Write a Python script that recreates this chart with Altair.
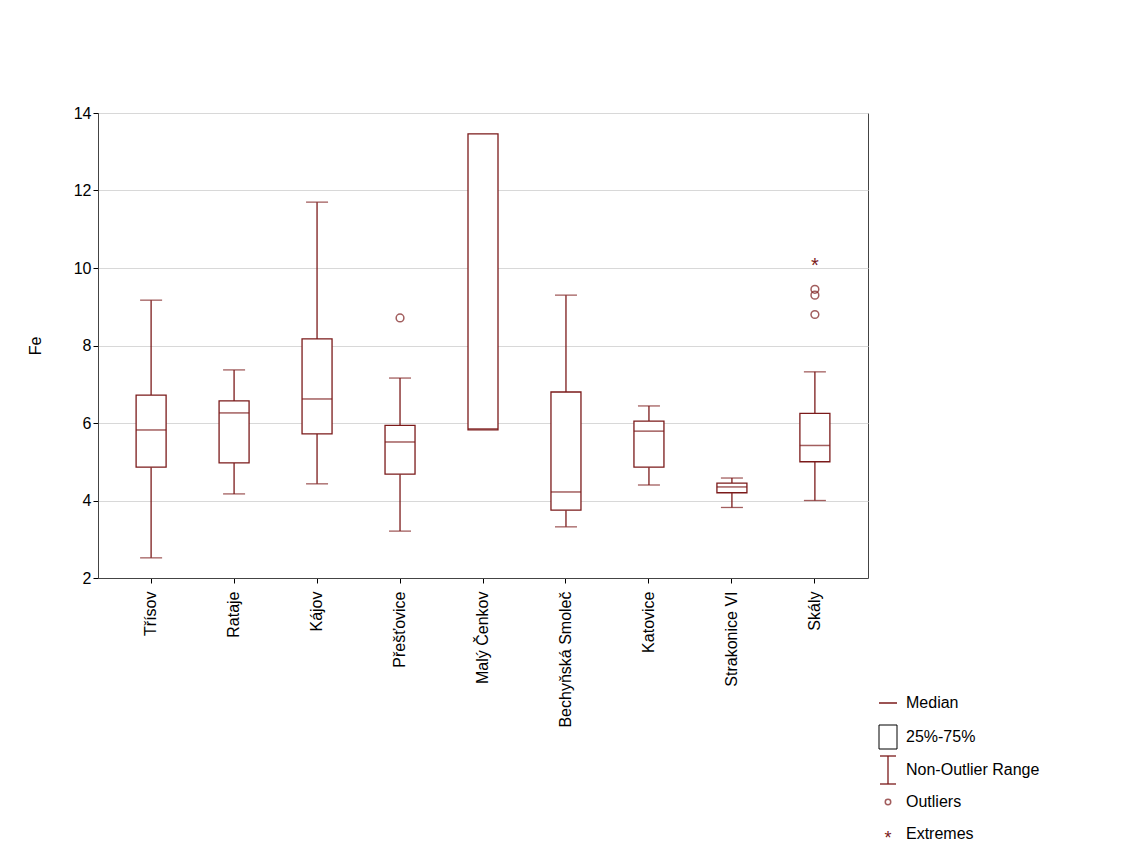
import altair as alt
import pandas as pd

sites = ["Třísov", "Rataje", "Kájov", "Přešťovice", "Malý Čenkov",
         "Bechyňská Smoleč", "Katovice", "Strakonice VI", "Skály"]
lo  = [2.52, 4.17, 4.43, 3.21, None, 3.32, 4.40, 3.82, 4.00]
q1  = [4.86, 4.97, 5.72, 4.68, 5.82, 3.75, 4.86, 4.20, 5.00]
med = [5.82, 6.26, 6.62, 5.51, 5.85, 4.22, 5.79, 4.35, 5.42]
q3  = [6.72, 6.57, 8.17, 5.94, 13.46, 6.80, 6.05, 4.45, 6.25]
hi  = [9.17, 7.37, 11.70, 7.16, None, 9.30, 6.44, 4.58, 7.32]
out_site = ["Přešťovice", "Skály", "Skály", "Skály"]
out_val = [8.71, 9.45, 9.30, 8.80]
ext_site = ["Skály"]
ext_val = [10.2]
legend_labels = ["Median", "25%-75%", "Non-Outlier Range", "Outliers", "Extremes"]

C = "#7b1a1a"
df = pd.DataFrame({"site": sites, "lo": lo, "q1": q1, "med": med, "q3": q3, "hi": hi})
dfo = pd.DataFrame({"site": out_site, "v": out_val})
dfe = pd.DataFrame({"site": ext_site, "v": ext_val})

xenc = alt.X("site:N", sort=sites, title=None,
             axis=alt.Axis(labelAngle=-90, labelFontSize=16, labelColor="black",
                           labelPadding=8, tickColor="black", domainColor="#444",
                           labelBaseline="middle", labelAlign="right"),
             scale=alt.Scale(paddingInner=0.0, paddingOuter=0.14))
yscale = alt.Scale(domain=[2, 14])
base = alt.Chart(df)
whisk = base.transform_filter("isValid(datum.lo)")
rule_lo = whisk.mark_rule(color=C, strokeWidth=1.3).encode(
    x=xenc, y=alt.Y("lo:Q", scale=yscale, title="Fe",
                    axis=alt.Axis(values=[2,4,6,8,10,12,14], labelFontSize=16, titleFontSize=16,
                                  titleFontWeight="normal", labelColor="black", titleColor="black",
                                  gridColor="#d8d8d8", domainColor="#444", tickColor="black", titlePadding=30)),
    y2="q1:Q")
rule_hi = whisk.mark_rule(color=C, strokeWidth=1.3).encode(x=xenc, y="q3:Q", y2="hi:Q")
cap_lo = whisk.mark_tick(color=C, size=22, thickness=1.3, orient="horizontal").encode(x=xenc, y="lo:Q")
cap_hi = whisk.mark_tick(color=C, size=22, thickness=1.3, orient="horizontal").encode(x=xenc, y="hi:Q")
box = base.mark_bar(fill="white", stroke=C, strokeWidth=1.3, size=30).encode(x=xenc, y="q1:Q", y2="q3:Q")
medt = base.mark_tick(color=C, size=30, thickness=1.5, orient="horizontal").encode(x=xenc, y="med:Q")
outs = alt.Chart(dfo).mark_point(shape="circle", color=C, size=60, strokeWidth=1.5).encode(x=xenc, y="v:Q")
exts = alt.Chart(dfe).mark_text(text="*", color=C, fontSize=20, dy=6).encode(x=xenc, y="v:Q")

# legend
lx, tx = 790, 808
ly = [590, 624, 657, 689, 721]
texts = [alt.Chart(pd.DataFrame({"t": [legend_labels[i]]})).mark_text(
    align="left", baseline="middle", fontSize=16, color="black").encode(
    x=alt.value(tx), y=alt.value(ly[i]), text="t:N") for i in range(5)]
one = pd.DataFrame({"a": [0]})
sym = [
    alt.Chart(one).mark_rule(color=C, strokeWidth=1.5).encode(x=alt.value(lx-9), x2=alt.value(lx+9), y=alt.value(ly[0])),
    alt.Chart(one).mark_rect(fill="white", stroke="black", strokeWidth=1).encode(
        x=alt.value(lx-9), x2=alt.value(lx+9), y=alt.value(ly[1]-12), y2=alt.value(ly[1]+12)),
    alt.Chart(one).mark_rule(color=C, strokeWidth=1.3).encode(x=alt.value(lx), y=alt.value(ly[2]-14), y2=alt.value(ly[2]+14)),
    alt.Chart(one).mark_rule(color=C, strokeWidth=1.3).encode(x=alt.value(lx-8), x2=alt.value(lx+8), y=alt.value(ly[2]-14)),
    alt.Chart(one).mark_rule(color=C, strokeWidth=1.3).encode(x=alt.value(lx-8), x2=alt.value(lx+8), y=alt.value(ly[2]+14)),
    alt.Chart(one).mark_point(shape="circle", color=C, size=30, strokeWidth=1.5).encode(x=alt.value(lx), y=alt.value(ly[3])),
    alt.Chart(one).mark_text(text="*", color=C, fontSize=18, dy=5).encode(x=alt.value(lx), y=alt.value(ly[4])),
]

chart = alt.layer(rule_lo, rule_hi, cap_lo, cap_hi, box, medt, outs, exts, *sym, *texts).properties(
    width=770, height=465, autosize="none",
    padding={"left": 90, "top": 105, "right": 250, "bottom": 275}
).configure_view(stroke="#444", strokeWidth=1).configure_axis(
    labelFont="Liberation Sans", titleFont="Liberation Sans"
).configure_text(font="Liberation Sans")

chart.save("out.html", embed_options={"renderer": "svg", "actions": False})
